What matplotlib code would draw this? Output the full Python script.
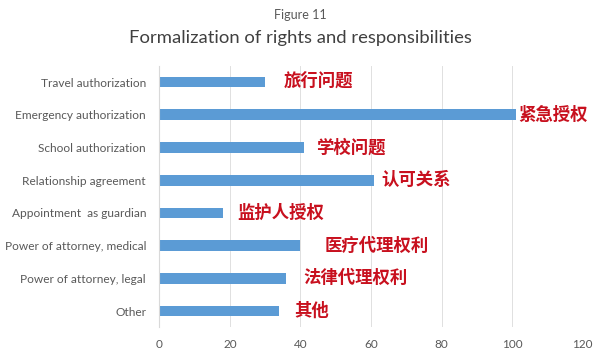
import matplotlib
matplotlib.use("Agg")
import matplotlib.pyplot as plt

categories = ["Travel authorization", "Emergency authorization", "School authorization",
              "Relationship agreement", "Appointment  as guardian", "Power of attorney, medical",
              "Power of attorney, legal", "Other"]
values = [30, 101, 41, 61, 18, 40, 36, 34]
cn_labels = ["旅行问题", "紧急授权", "学校问题", "认可关系", "监护人授权", "医疗代理权利", "法律代理权利", "其他"]
cn_offsets_px = [19, 3, 12, 7, 14, 24, 17, 15]
xticks = [0, 20, 40, 60, 80, 100, 120]

fig = plt.figure(figsize=(6, 3.58), dpi=100)
ax = fig.add_axes([0.2655, 0.0855, 0.7055, 0.731])

ypos = list(range(len(categories)))
ax.barh(ypos, values, height=0.33, color="#5b9bd5", zorder=3)
ax.set_ylim(len(categories) - 0.5, -0.5)
ax.set_xlim(0, 120)
ax.set_xticks(xticks)
ax.set_xticklabels([str(t) for t in xticks], fontsize=8.5, color="#595959", family="Lato")
ax.set_yticks(ypos)
ax.set_yticklabels(categories, fontsize=8.6, color="#595959", family="Lato")
ax.tick_params(axis="both", length=0)
ax.tick_params(axis="y", pad=9.5)
ax.tick_params(axis="x", pad=8.5)
ax.grid(axis="x", color="#e0e0e0", linewidth=0.7, zorder=0)
for s in ["top", "right", "bottom"]:
    ax.spines[s].set_visible(False)
ax.spines["left"].set_color("#d9d9d9")
ax.spines["left"].set_linewidth(0.8)
ax.spines["left"].set_zorder(4)

for y, v, lab, off in zip(ypos, values, cn_labels, cn_offsets_px):
    ax.annotate(lab, xy=(v, y), xytext=(off, 0), textcoords="offset pixels",
                ha="left", va="center", fontsize=12.5, fontweight="bold",
                color="#c8101e", family=["Noto Sans CJK SC", "DejaVu Sans"])

fig.text(0.5, 1 - 15 / 358, "Figure 11", ha="center", va="center", fontsize=9,
         color="#595959", family="Lato")
fig.text(0.5, 1 - 38 / 358, "Formalization of rights and responsibilities", ha="center",
         va="center", fontsize=13.3, color="#404040", family="Lato")

fig.savefig("out.png", dpi=100, facecolor="white")
